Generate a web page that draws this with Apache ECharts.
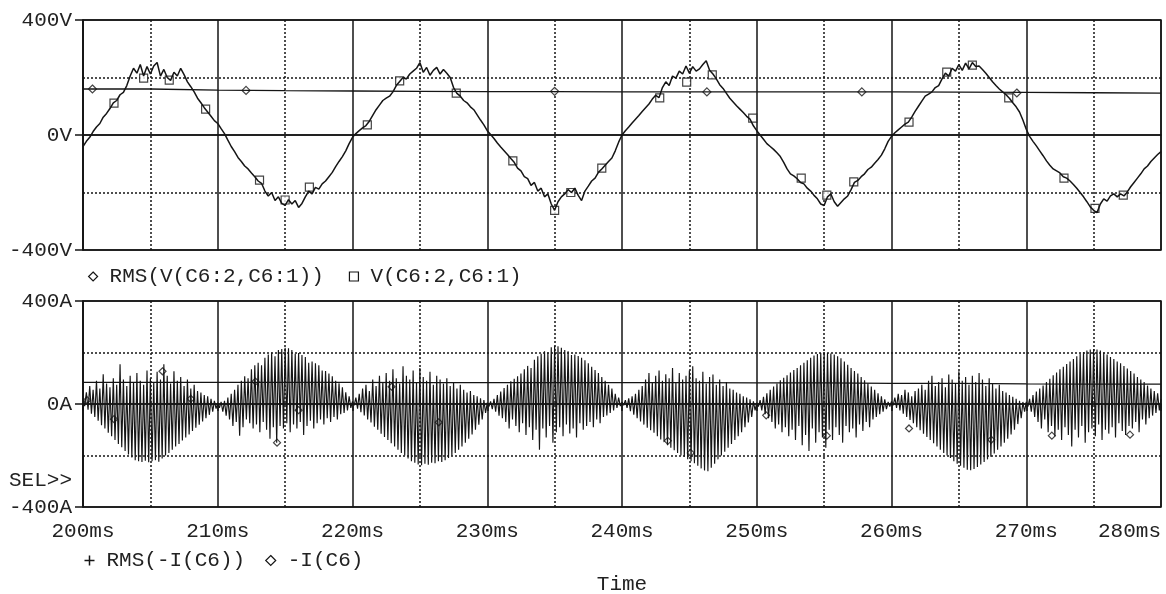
<!DOCTYPE html>
<html>
<head>
<meta charset="utf-8">
<title>V(C6) / I(C6)</title>
<script src="https://cdn.jsdelivr.net/npm/echarts@6.0.0/dist/echarts.min.js"></script>
<style>
  html, body { margin: 0; padding: 0; background: #fff; }
  #scope { width: 1166px; height: 594px; }
</style>
</head>
<body>
<div id="scope"></div>
<script>
// time axis (ms)
const tStart = 200;
const tEnd = 280;
const vStep = 0.25;   // voltage sample step
const iStep = 0.25;   // one switching spike per step

// V(C6:2,C6:1), every 0.25ms from 200ms
const voltage = [
  -40, -22, -8, 12, 28, 40, 62, 75, 92, 112, 120, 140, 148, 172, 205, 232, 215, 245, 205, 238,
  212, 240, 252, 205, 228, 200, 190, 218, 205, 232, 210, 185, 168, 150, 128, 112, 95, 80, 65, 50,
  40, 22, 5, -18, -40, -58, -78, -92, -108, -118, -132, -145, -160, -168, -195, -212, -200, -228, -215, -238,
  -245, -225, -240, -228, -252, -238, -215, -195, -205, -182, -188, -170, -160, -145, -130, -110, -92, -75, -55, -30,
  -8, 5, 15, 25, 33, 48, 68, 88, 104, 120, 128, 135, 150, 172, 186, 200, 195, 212, 222, 232,
  252, 218, 235, 208, 225, 235, 212, 228, 215, 200, 165, 145, 135, 120, 112, 98, 88, 70, 52, 35,
  15, 2, -12, -28, -42, -55, -68, -82, -95, -115, -125, -145, -152, -175, -165, -195, -185, -215, -205, -240,
  -262, -232, -215, -205, -190, -200, -185, -210, -228, -195, -178, -160, -150, -130, -118, -105, -92, -80, -55, -25,
  0, 15, 28, 42, 55, 68, 82, 95, 108, 125, 138, 130, 165, 185, 172, 205, 198, 222, 212, 240,
  215, 238, 222, 230, 245, 258, 225, 212, 195, 175, 162, 145, 128, 115, 102, 90, 78, 65, 55, 32,
  15, 0, -15, -30, -40, -50, -62, -75, -95, -118, -135, -142, -152, -165, -170, -185, -195, -210, -222, -240,
  -245, -215, -205, -232, -248, -235, -222, -212, -190, -165, -158, -145, -135, -120, -112, -98, -85, -70, -48, -22,
  -5, 8, 18, 28, 38, 45, 62, 82, 100, 118, 135, 142, 150, 165, 172, 195, 215, 205, 232, 222,
  245, 225, 250, 230, 252, 238, 240, 228, 215, 200, 185, 172, 160, 150, 140, 128, 112, 98, 80, 52,
  20, -5, -22, -38, -55, -72, -90, -105, -118, -125, -132, -145, -150, -160, -172, -185, -200, -215, -232, -250,
  -262, -270, -240, -222, -230, -212, -205, -215, -205, -212, -198, -180, -165, -150, -135, -118, -108, -92, -80, -68,
  -58
];

// RMS(V(C6:2,C6:1)), every 5ms from 200ms
const rmsVoltage = [160, 160, 156, 154, 153, 152, 151, 151, 150, 150, 150, 150, 150, 149, 148, 147, 146];

// -I(C6): top and bottom of each switching spike, one per 0.25ms
const currentHigh = [
  20, 45, 70, 55, 90, 60, 115, 80, 65, 100, 75, 154, 95, 70, 110, 85, 120, 90, 75, 130, 100, 85, 125, 95, 154, 110, 80, 127, 90, 105, 70, 95, 60, 75, 50, 45, 35, 30, 20, 12,
  5, 8, 12, 25, 40, 55, 75, 90, 108, 100, 135, 150, 160, 150, 180, 192, 200, 185, 210, 214, 218, 216, 210, 195, 198, 190, 182, 160, 165, 158, 150, 130, 128, 118, 108, 90, 80, 65, 45, 30,
  10, 25, 40, 60, 75, 50, 95, 70, 110, 85, 120, 90, 135, 100, 80, 147, 110, 95, 130, 85, 140, 105, 90, 125, 75, 110, 95, 80, 100, 70, 85, 60, 75, 55, 45, 50, 35, 30, 22, 15,
  5, 10, 20, 35, 48, 62, 75, 88, 98, 108, 118, 135, 148, 140, 172, 185, 195, 205, 200, 220, 226, 224, 218, 210, 205, 190, 192, 186, 180, 170, 158, 145, 132, 120, 105, 90, 75, 60, 40, 25,
  8, 15, 22, 30, 40, 55, 70, 95, 120, 85, 110, 130, 90, 115, 100, 140, 85, 120, 95, 110, 130, 147, 100, 90, 125, 80, 105, 115, 75, 95, 70, 85, 60, 55, 45, 40, 30, 25, 18, 10,
  5, 15, 28, 42, 55, 68, 80, 92, 102, 112, 122, 132, 140, 150, 160, 170, 180, 188, 194, 198, 200, 198, 196, 192, 185, 178, 165, 152, 140, 128, 118, 105, 92, 80, 68, 55, 42, 30, 18, 8,
  10, 25, 40, 35, 55, 45, 30, 50, 60, 75, 55, 90, 110, 70, 85, 100, 65, 115, 95, 80, 127, 90, 105, 75, 110, 85, 120, 95, 70, 100, 80, 60, 75, 50, 45, 35, 28, 20, 12, 8,
  8, 20, 35, 48, 60, 72, 85, 98, 112, 122, 135, 145, 155, 165, 175, 185, 195, 202, 208, 212, 214, 212, 208, 200, 192, 182, 175, 165, 158, 148, 138, 128, 118, 105, 95, 85, 72, 60, 50, 42
];
const currentLow = [
  -8, -22, -38, -50, -65, -82, -95, -112, -125, -140, -155, -168, -182, -196, -208, -218, -222, -225, -220, -226, -222, -218, -224, -212, -200, -190, -178, -165, -155, -142, -130, -118, -105, -92, -80, -68, -55, -42, -30, -18,
  -15, -30, -45, -60, -85, -70, -123, -90, -60, -75, -95, -80, -110, -70, -100, -135, -90, -150, -85, -95, -75, -110, -80, -95, -70, -120, -85, -65, -95, -75, -60, -80, -55, -70, -50, -60, -40, -35, -25, -15,
  -5, -18, -32, -45, -60, -72, -88, -100, -115, -128, -140, -152, -165, -178, -190, -200, -212, -222, -228, -235, -238, -232, -236, -228, -230, -222, -225, -218, -210, -200, -190, -178, -165, -150, -135, -118, -100, -80, -60, -35,
  -10, -20, -30, -45, -55, -70, -95, -60, -85, -110, -75, -120, -90, -140, -100, -178, -95, -130, -85, -150, -110, -90, -125, -80, -115, -95, -130, -75, -100, -85, -70, -90, -60, -75, -50, -45, -35, -25, -15, -8,
  -5, -15, -28, -42, -55, -68, -80, -92, -102, -112, -125, -138, -148, -160, -170, -180, -190, -200, -205, -215, -222, -230, -240, -250, -258, -261, -248, -232, -215, -200, -185, -170, -155, -140, -125, -110, -90, -72, -50, -25,
  -10, -25, -40, -55, -70, -95, -80, -110, -90, -125, -100, -140, -85, -160, -120, -182, -95, -150, -110, -130, -170, -100, -140, -90, -120, -150, -85, -110, -95, -130, -80, -105, -70, -90, -60, -50, -40, -30, -20, -10,
  -5, -15, -25, -38, -50, -62, -75, -90, -102, -115, -128, -140, -152, -165, -178, -190, -200, -210, -222, -232, -240, -248, -255, -257, -252, -245, -235, -225, -215, -205, -192, -178, -165, -150, -135, -118, -100, -78, -55, -30,
  -10, -30, -50, -70, -95, -60, -110, -85, -125, -100, -140, -90, -120, -165, -100, -130, -85, -150, -110, -95, -125, -80, -140, -100, -115, -90, -130, -75, -105, -120, -85, -95, -70, -110, -60, -80, -55, -45, -35, -25
];
const currentEnd = 20;

// RMS(-I(C6)), every 5ms from 200ms
const rmsCurrent = [84, 84, 84, 84, 84, 83, 83, 83, 83, 83, 82, 82, 80, 80, 78, 77, 77];

// trace markers [ms, value]
const voltageMarks = [
  [202.3, 111], [204.5, 198], [206.4, 191], [209.1, 90], [213.1, -157], [215.0, -226], [216.8, -181],
  [221.1, 35], [223.5, 188], [227.7, 146], [231.9, -90], [235.0, -262], [236.2, -200], [238.5, -115],
  [242.8, 129], [244.8, 184], [246.7, 209], [249.7, 59], [253.3, -150], [255.2, -209], [257.2, -163],
  [261.3, 45], [264.1, 219], [266.0, 243], [268.7, 129], [272.8, -150], [275.1, -255], [277.2, -209]
];
const rmsVoltageMarks = [[200.7, 160], [212.1, 155], [235.0, 152], [246.3, 150], [257.8, 150], [269.3, 146]];
const currentMarks = [
  [200.3, 15], [202.3, -59], [205.9, 127], [208.0, 20], [212.8, 87], [214.4, -150], [216.0, -24],
  [222.9, 67], [226.4, -71], [243.4, -143], [245.1, -190], [250.7, -44], [255.2, -123], [261.3, -95],
  [267.4, -139], [271.9, -123], [277.7, -119]
];

const yTicks = [-400, 0, 400];

// build [x, y] tables
const vData = voltage.map((v, i) => [tStart + i * vStep, v]);
const rmsVData = rmsVoltage.map((v, i) => [tStart + i * 5, v]);
const rmsIData = rmsCurrent.map((v, i) => [tStart + i * 5, v]);
const iData = [];
currentHigh.forEach((hi, i) => {
  iData.push([tStart + i * iStep, hi]);
  iData.push([tStart + i * iStep + iStep / 2, currentLow[i]]);
});
iData.push([tEnd, currentEnd]);

const FONT = "'Liberation Mono', 'DejaVu Sans Mono', monospace";
const INK = '#151515';
const hollow = { color: '#fff', borderColor: INK, borderWidth: 1.2 };
const legendText = { fontFamily: FONT, fontSize: 21, color: '#222', padding: [0, 0, 0, 7] };

function xAxisOf(idx, showLabels) {
  return {
    type: 'value',
    gridIndex: idx,
    min: tStart,
    max: tEnd,
    interval: 10,
    axisLine: { show: true, lineStyle: { color: INK, width: 1.5 } },
    axisTick: { show: showLabels, length: 7, lineStyle: { color: INK, width: 1.5 } },
    axisLabel: {
      show: showLabels,
      margin: 14,
      formatter: v => v + 'ms',
      fontFamily: FONT,
      fontSize: 21,
      color: '#222',
      alignMaxLabel: 'right'
    },
    splitLine: { show: true, lineStyle: { color: INK, width: 1.5 } },
    minorTick: { show: false, splitNumber: 2 },
    minorSplitLine: { show: true, lineStyle: { color: INK, width: 1.5, type: [2, 2] } },
    name: showLabels ? 'Time' : '',
    nameLocation: 'middle',
    nameGap: 67,
    nameTextStyle: { fontFamily: FONT, fontSize: 21, color: '#222' }
  };
}

function yAxisOf(idx, unit) {
  return {
    type: 'value',
    gridIndex: idx,
    min: yTicks[0],
    max: yTicks[2],
    interval: 400,
    axisLine: { show: true, lineStyle: { color: INK, width: 1.5 } },
    axisTick: { show: true, length: 8, lineStyle: { color: INK, width: 1.5 } },
    axisLabel: {
      margin: 11,
      formatter: v => v + unit,
      fontFamily: FONT,
      fontSize: 21,
      color: '#222'
    },
    splitLine: { show: true, lineStyle: { color: INK, width: 1.5 } },
    minorTick: { show: false, splitNumber: 2 },
    minorSplitLine: { show: true, lineStyle: { color: INK, width: 1.5, type: [2, 2] } }
  };
}

const chart = echarts.init(document.getElementById('scope'));

const option = {
  animation: false,
  backgroundColor: '#fff',
  grid: [
    { left: 83, top: 20, width: 1078, height: 230, outerBoundsMode: 'none', show: true, borderColor: INK, borderWidth: 1.5 },
    { left: 83, top: 301, width: 1078, height: 206, outerBoundsMode: 'none', show: true, borderColor: INK, borderWidth: 1.5 }
  ],
  xAxis: [xAxisOf(0, false), xAxisOf(1, true)],
  yAxis: [yAxisOf(0, 'V'), yAxisOf(1, 'A')],
  legend: [
    {
      left: 83,
      top: 261,
      itemWidth: 9,
      itemHeight: 9,
      itemGap: 25,
      itemStyle: hollow,
      textStyle: legendText,
      data: [
        { name: 'RMS(V(C6:2,C6:1))', icon: 'diamond' },
        { name: 'V(C6:2,C6:1)', icon: 'rect' }
      ]
    },
    {
      left: 77,
      top: 545,
      itemWidth: 10,
      itemHeight: 10,
      itemGap: 20,
      itemStyle: hollow,
      textStyle: legendText,
      data: [
        { name: 'RMS(-I(C6))', icon: 'path://M0,5L10,5M5,0L5,10', itemStyle: { color: 'none', borderColor: INK, borderWidth: 1.5 } },
        { name: '-I(C6)', icon: 'diamond' }
      ]
    }
  ],
  graphic: [
    {
      type: 'text',
      right: 1166 - 72,
      top: 470,
      style: { text: 'SEL>>', font: '21px ' + FONT, fill: '#222' }
    }
  ],
  series: [
    {
      name: 'RMS(V(C6:2,C6:1))',
      type: 'line',
      xAxisIndex: 0,
      yAxisIndex: 0,
      data: rmsVData,
      symbol: 'none',
      lineStyle: { color: INK, width: 1.3 },
      itemStyle: hollow
    },
    {
      name: 'V(C6:2,C6:1)',
      type: 'line',
      xAxisIndex: 0,
      yAxisIndex: 0,
      data: vData,
      symbol: 'none',
      lineStyle: { color: INK, width: 1.5 },
      itemStyle: hollow
    },
    {
      name: 'rmsVMarks',
      type: 'scatter',
      xAxisIndex: 0,
      yAxisIndex: 0,
      data: rmsVoltageMarks,
      symbol: 'diamond',
      symbolSize: 8,
      itemStyle: hollow
    },
    {
      name: 'vMarks',
      type: 'scatter',
      xAxisIndex: 0,
      yAxisIndex: 0,
      data: voltageMarks,
      symbol: 'rect',
      symbolSize: 8,
      itemStyle: hollow
    },
    {
      name: 'RMS(-I(C6))',
      type: 'line',
      xAxisIndex: 1,
      yAxisIndex: 1,
      data: rmsIData,
      symbol: 'none',
      lineStyle: { color: INK, width: 1.3 }
    },
    {
      name: '-I(C6)',
      type: 'line',
      xAxisIndex: 1,
      yAxisIndex: 1,
      data: iData,
      symbol: 'none',
      lineStyle: { color: INK, width: 1.15 },
      itemStyle: hollow
    },
    {
      name: 'iMarks',
      type: 'scatter',
      xAxisIndex: 1,
      yAxisIndex: 1,
      data: currentMarks,
      symbol: 'diamond',
      symbolSize: 7,
      itemStyle: hollow
    }
  ]
};

chart.setOption(option);
</script>
</body>
</html>
